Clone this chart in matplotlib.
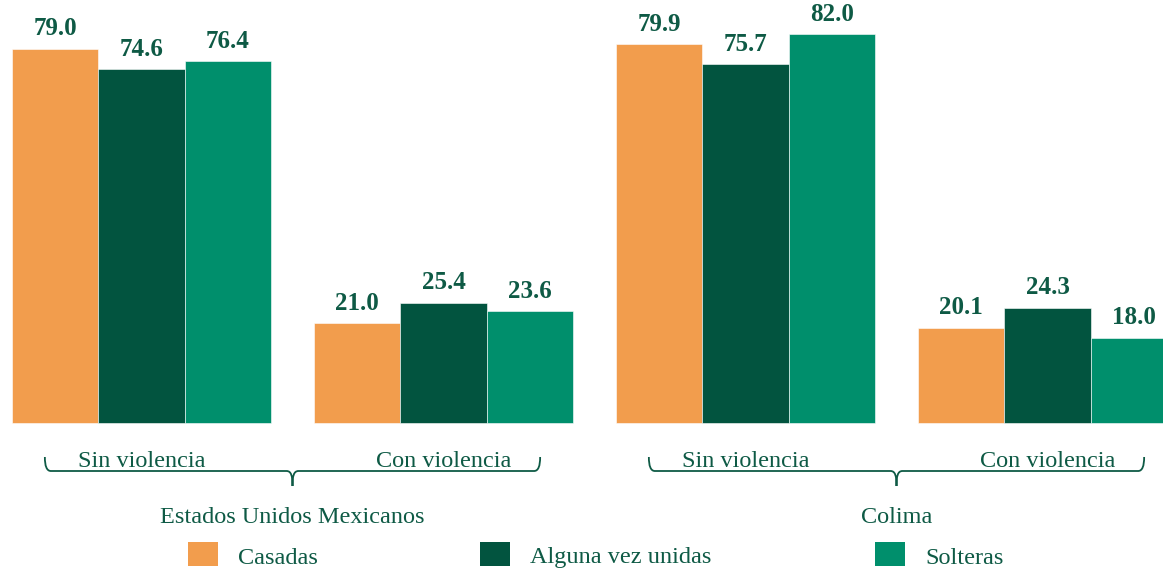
import matplotlib
matplotlib.use("Agg")
import matplotlib.pyplot as plt
from matplotlib.path import Path
from matplotlib.patches import PathPatch, Rectangle
import matplotlib.transforms as mtransforms

# ---------------- datos ----------------
grupos = ["Sin violencia", "Con violencia", "Sin violencia", "Con violencia"]
regiones = ["Estados Unidos Mexicanos", "Colima"]
series = ["Casadas", "Alguna vez unidas", "Solteras"]
casadas = [79.0, 21.0, 79.9, 20.1]
alguna_vez_unidas = [74.6, 25.4, 75.7, 24.3]
solteras = [76.4, 23.6, 82.0, 18.0]

colores = ["#F29D4D", "#02543F", "#008F6C"]
texto_color = "#0E5A45"

plt.rcParams["font.family"] = ["Liberation Serif", "DejaVu Serif"]

W, H = 1163, 569
fig = plt.figure(figsize=(W / 100, H / 100), dpi=100)

# eje principal: la base de las barras en y=423 px
base_px = 423
ax = fig.add_axes([0, (H - base_px) / H, 1, base_px / H])
paso_px = 302.0
ancho = 86.5 / paso_px
x0 = 141.5 / paso_px
ax.set_xlim(-x0, (W - 141.5) / paso_px)
ax.set_ylim(0, base_px / 4.74)
ax.axis("off")

x = list(range(len(grupos)))
for i, (vals, col) in enumerate(zip([casadas, alguna_vez_unidas, solteras], colores)):
    pos = [xi + (i - 1) * ancho for xi in x]
    barras = ax.bar(pos, vals, width=ancho, color=col, edgecolor="white",
                    linewidth=0.4, clip_on=False)
    for b, v in zip(barras, vals):
        ax.annotate(f"{v:.1f}", (b.get_x() + b.get_width() / 2, v),
                    xytext=(0, 6), textcoords="offset points",
                    ha="center", va="bottom", fontsize=18, fontweight="bold",
                    color=texto_color)

# transformacion mixta: x en datos, y en pixeles (desde arriba)
fig_px = mtransforms.Affine2D().scale(1 / W, -1 / H).translate(0, 1) + fig.transFigure
trans = mtransforms.blended_transform_factory(ax.transData, fig_px)

# etiquetas de categoria
for xi, g in zip(x, grupos):
    ax.text(xi, 462, g, transform=trans, ha="center", va="center",
            fontsize=17.5, color=texto_color)

# llaves debajo de cada region
media = 0.82
for k, reg in enumerate(regiones):
    c = 2 * k + 0.5
    a, b = c - media, c + media
    d = 0.02
    verts = [
        (a, 457), (a, 466), (a + d * 0.3, 471), (a + d, 471),
        (c - d, 471), (c - d * 0.2, 471), (c, 476), (c, 486),
        (c, 476), (c + d * 0.2, 471), (c + d, 471),
        (b - d, 471), (b - d * 0.3, 471), (b, 466), (b, 457),
    ]
    codes = [Path.MOVETO, Path.CURVE4, Path.CURVE4, Path.CURVE4,
             Path.LINETO, Path.CURVE4, Path.CURVE4, Path.CURVE4,
             Path.CURVE4, Path.CURVE4, Path.CURVE4,
             Path.LINETO, Path.CURVE4, Path.CURVE4, Path.CURVE4]
    fig.add_artist(PathPatch(Path(verts, codes), transform=trans, fill=False,
                             edgecolor=texto_color, linewidth=1.3))
    ax.text(c, 518, reg, transform=trans, ha="center", va="center",
            fontsize=17.5, color=texto_color)

# leyenda manual
leyenda_x = [188, 480, 875]
for lx, nombre, col in zip(leyenda_x, series, colores):
    fig.add_artist(Rectangle((lx, 566), 30, -24, transform=fig_px,
                             facecolor=col, edgecolor="none"))
    fig.text((lx + 50) / W, 1 - 558 / H, nombre, ha="left", va="center",
             fontsize=17.5, color=texto_color)

fig.savefig("out.png", dpi=100)
